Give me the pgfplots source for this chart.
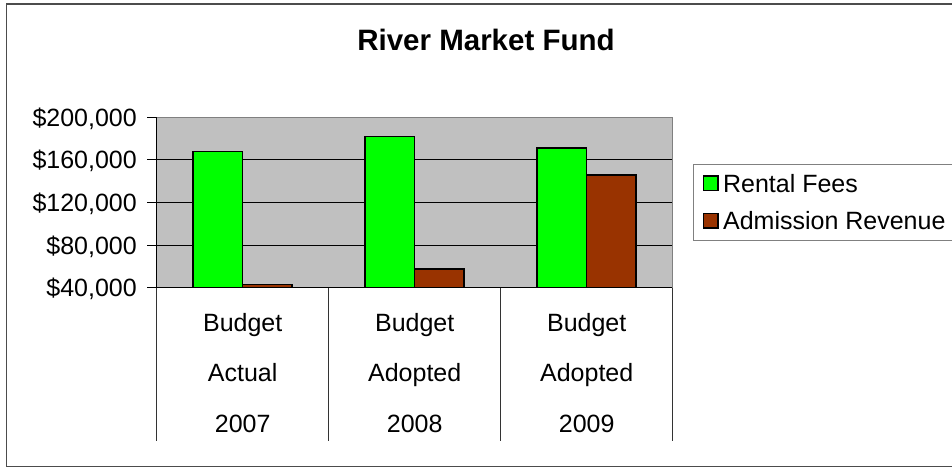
\documentclass[border=0pt]{standalone}
\usepackage{fontspec}
\setmainfont{Liberation Sans}
\usepackage{pgfplots}
\pgfplotsset{compat=1.18}
\definecolor{plotbg}{HTML}{C0C0C0}
\definecolor{rental}{HTML}{00FF00}
\definecolor{admission}{HTML}{993300}
\definecolor{framegray}{HTML}{808080}
\newcommand\lbl{\fontsize{25}{29}\selectfont}
\pgfplotsset{
  sqlegend/.style={legend image code/.code={
    \path (0pt,0pt);
    \draw[##1, line width=1.5pt] (5pt,-6.4pt) rectangle (19.4pt,8pt);}},
}

\begin{document}
\begin{tikzpicture}[x=1pt,y=1pt]
\useasboundingbox (0,0) rectangle (952,468);
% chart frame, right edge falls outside the page
\draw[black!70, line width=1.3pt] (990,464) -- (6.7,464) -- (6.7,1.3) -- (990,1.3);

\begin{axis}[
    at={(156.7pt,180.3pt)}, anchor=south west,
    scale only axis, width=516pt, height=170.4pt,
    xmin=-0.5, xmax=2.5,
    ymin=40000, ymax=200000,
    axis x line*=bottom, axis y line*=left,
    axis line style={black, line width=1pt, -},
    xtick=\empty,
    ytick={40000,80000,...,200000},
    scaled y ticks=false,
    yticklabel={\$\pgfmathprintnumber[fixed, precision=0, 1000 sep={,}, assume math mode=true]{\tick}},
    yticklabel style={font=\lbl, text height=17.9pt, text depth=0pt, inner xsep=0pt, xshift=-10pt},
    tick align=outside, major tick length=9.7pt,
    tick style={black, line width=1pt},
    ymajorgrids, grid style={black, line width=0.9pt},
    axis background/.style={fill=plotbg},
    ybar=0pt, bar width=49.5pt,
    legend style={at={(1.04,0.724)}, anchor=north west, draw=framegray, line width=1pt,
        fill=white, font=\lbl, inner xsep=4pt, inner ysep=4.4pt, row sep=8.3pt,
        nodes={inner xsep=4.4pt, inner ysep=0pt, text height=23pt, text depth=6.3pt}},
    legend cell align=left,
]

\addplot[fill=rental, draw=black, line width=1.5pt, sqlegend]
    coordinates {(0,168000) (1,182000) (2,171000)};
\addplot[fill=admission, draw=black, line width=1.5pt, sqlegend]
    coordinates {(0,43000) (1,57500) (2,146000)};
\legend{Rental Fees, Admission Revenue\hspace*{20pt}}

\end{axis}

% gray top and right edges of the plot area
\draw[framegray, line width=1.5pt] (156.7,350.7) -- (672.7,350.7) -- (672.7,180.3);

% category separators below the axis
\foreach \x in {156.7,328.7,500.7,672.7}
  \draw[black!80, line width=1pt] (\x,180.3) -- (\x,27);

% category labels
\foreach \x/\a/\b/\c in {242.7/Budget/Actual/2007, 414.7/Budget/Adopted/2008, 586.7/Budget/Adopted/2009} {
  \node[font=\lbl, anchor=base] at (\x,136.3) {\a};
  \node[font=\lbl, anchor=base] at (\x,86) {\b};
  \node[font=\lbl, anchor=base] at (\x,35.3) {\c};
}

% title
\node[font=\fontsize{29.5}{35}\selectfont\bfseries, anchor=base] at (486,417) {River Market Fund};
\end{tikzpicture}
\end{document}
